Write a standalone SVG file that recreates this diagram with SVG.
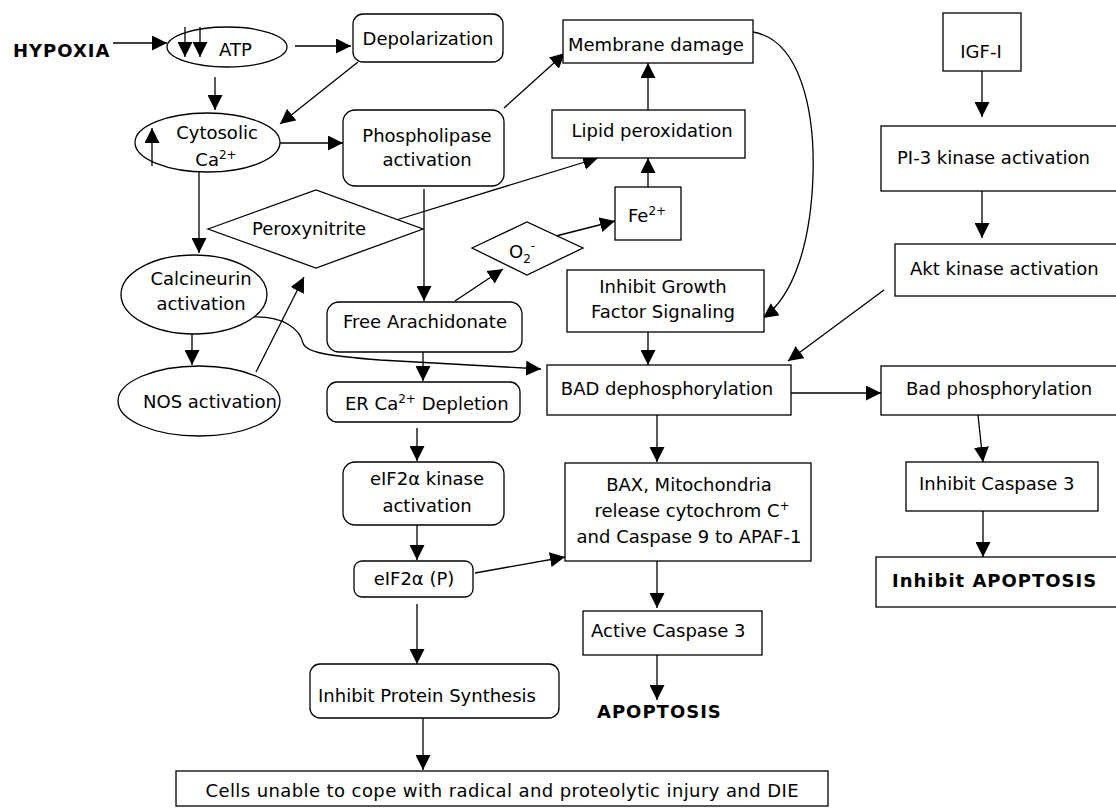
<svg xmlns="http://www.w3.org/2000/svg" width="1116" height="809" viewBox="0 0 1116 809">
<defs>
<marker id="ah" markerUnits="userSpaceOnUse" markerWidth="15" markerHeight="15" refX="15" refY="7.5" orient="auto" viewBox="0 0 15 15">
<path d="M0,0 L15,7.5 L0,15 z" fill="#000"/>
</marker>
</defs>
<style>
.t{font-family:"DejaVu Sans",Verdana,sans-serif;font-size:18px;fill:#000}
.m{text-anchor:middle}
.b{font-family:"DejaVu Sans",Verdana,sans-serif;font-size:18px;font-weight:bold;letter-spacing:1px;fill:#000}
.s{fill:#fff;stroke:#000;stroke-width:1.3}
.c{fill:none;stroke:#000;stroke-width:1.3;marker-end:url(#ah)}
.sup{font-size:12px}
</style>
<rect width="1116" height="809" fill="#fff"/>

<g id="connectors">
<path class="c" d="M113,43 L167,43"/>
<path class="c" d="M295,46 L351,46"/>
<path class="c" d="M215,77 L215,110"/>
<path class="c" d="M358,62 L280,124"/>
<path class="c" d="M280,143 L343,143"/>
<path class="c" d="M504,108 L565,53"/>
<path class="c" d="M648,110 L648,63"/>
<path class="c" d="M648,187 L648,158"/>
<path class="c" d="M552,237 L615,221"/>
<path class="c" d="M393,221 L598,158"/>
<path class="c" d="M424,189 L424,301"/>
<path class="c" d="M199,172 L199,253"/>
<path class="c" d="M192,334 L192,365"/>
<path class="c" d="M256,372 L304,277"/>
<path class="c" d="M253,317 C285,316 300,330 303,343 C306,353 330,356 380,360 L541,369"/>
<path class="c" d="M455,301 L503,269"/>
<path class="c" d="M423,352 L423,381"/>
<path class="c" d="M417,428 L417,461"/>
<path class="c" d="M417,525 L417,560"/>
<path class="c" d="M475,573 L565,557"/>
<path class="c" d="M417,604 L417,664"/>
<path class="c" d="M423,718 L423,770"/>
<path class="c" d="M753,32 C800,40 815,110 813,175 C811,240 795,295 763,318"/>
<path class="c" d="M648,332 L648,365"/>
<path class="c" d="M791,393 L881,393"/>
<path class="c" d="M884,290 L788,361"/>
<path class="c" d="M657,415 L657,462"/>
<path class="c" d="M657,561 L657,608"/>
<path class="c" d="M657,655 L657,700"/>
<path class="c" d="M978,415 L983,462"/>
<path class="c" d="M983,511 L983,557"/>
<path class="c" d="M982,67 L982,117"/>
<path class="c" d="M982,191 L982,238"/>
</g>

<g id="hypoxia"><text class="b" x="13" y="57">HYPOXIA</text></g>

<g id="atp">
<ellipse class="s" cx="227" cy="47" rx="60" ry="20"/>
<path class="c" d="M185,27 L185,57"/>
<path class="c" d="M200,27 L200,57"/>
<text class="t" x="219" y="56">ATP</text>
</g>

<g id="depolarization">
<rect class="s" x="353" y="14" width="150" height="48" rx="10"/>
<text class="t m" x="428" y="45">Depolarization</text>
</g>

<g id="cytosolic">
<ellipse class="s" cx="207.5" cy="142.5" rx="72.5" ry="29.5"/>
<path class="c" d="M152,166 L152,128"/>
<text class="t m" x="217" y="139">Cytosolic</text>
<text class="t m" x="216" y="166">Ca<tspan class="sup" dy="-7">2+</tspan></text>
</g>

<g id="phospholipase">
<rect class="s" x="343" y="110" width="161" height="76" rx="12"/>
<text class="t m" x="427" y="142">Phospholipase</text>
<text class="t m" x="427" y="166">activation</text>
</g>

<g id="membrane-damage">
<rect class="s" x="563" y="20" width="190" height="43"/>
<text class="t" x="568" y="51">Membrane damage</text>
</g>

<g id="lipid-peroxidation">
<rect class="s" x="552" y="110" width="193" height="48"/>
<text class="t m" x="652" y="137">Lipid peroxidation</text>
</g>

<g id="fe">
<rect class="s" x="615" y="187" width="66" height="53"/>
<text class="t" x="628" y="222">Fe<tspan class="sup" dy="-7">2+</tspan></text>
</g>

<g id="o2">
<polygon class="s" points="472,248 527,222 583,248 527,275"/>
<text class="t" x="509" y="258">O<tspan class="sup" dy="5">2</tspan><tspan class="sup" dy="-13">-</tspan></text>
</g>

<g id="peroxynitrite">
<polygon class="s" points="208,229 316,190 423,229 316,268"/>
<text class="t" x="252" y="235">Peroxynitrite</text>
</g>

<g id="calcineurin">
<ellipse class="s" cx="194" cy="294.5" rx="73" ry="39.5"/>
<text class="t m" x="201" y="285">Calcineurin</text>
<text class="t m" x="201" y="310">activation</text>
</g>

<g id="nos">
<ellipse class="s" cx="199" cy="401" rx="81" ry="35"/>
<text class="t" x="143" y="408">NOS activation</text>
</g>

<g id="free-arachidonate">
<rect class="s" x="327" y="302" width="195" height="50" rx="12"/>
<text class="t m" x="425" y="328">Free Arachidonate</text>
</g>

<g id="er-depletion">
<rect class="s" x="327" y="382" width="193" height="40" rx="10"/>
<text class="t" x="345" y="410">ER Ca<tspan class="sup" dy="-7">2+</tspan><tspan dy="7"> Depletion</tspan></text>
</g>

<g id="eif2-kinase">
<rect class="s" x="343" y="462" width="161" height="63" rx="12"/>
<text class="t m" x="427" y="485">eIF2α kinase</text>
<text class="t m" x="427" y="512">activation</text>
</g>

<g id="eif2-p">
<rect class="s" x="354" y="561" width="119" height="36" rx="8"/>
<text class="t m" x="414" y="585">eIF2α (P)</text>
</g>

<g id="inhibit-protein">
<rect class="s" x="310" y="664" width="249" height="54" rx="10"/>
<text class="t" x="318" y="702">Inhibit Protein Synthesis</text>
</g>

<g id="cells-die">
<rect class="s" x="176" y="771" width="652" height="35"/>
<text class="t m" x="502" y="797" textLength="593" lengthAdjust="spacing">Cells unable to cope with radical and proteolytic injury and DIE</text>
</g>

<g id="inhibit-growth">
<rect class="s" x="567" y="270" width="197" height="62"/>
<text class="t m" x="663" y="293">Inhibit Growth</text>
<text class="t m" x="663" y="318">Factor Signaling</text>
</g>

<g id="bad-dephos">
<rect class="s" x="547" y="365" width="244" height="50"/>
<text class="t m" x="667" y="395">BAD dephosphorylation</text>
</g>

<g id="bax">
<rect class="s" x="565" y="463" width="246" height="98"/>
<text class="t m" x="689" y="491">BAX, Mitochondria</text>
<text class="t m" x="692" y="517">release cytochrom C<tspan class="sup" dy="-7">+</tspan></text>
<text class="t m" x="689" y="543">and Caspase 9 to APAF-1</text>
</g>

<g id="active-caspase">
<rect class="s" x="583" y="611" width="179" height="44"/>
<text class="t" x="591" y="637">Active Caspase 3</text>
</g>

<g id="apoptosis"><text class="b" x="597" y="718">APOPTOSIS</text></g>

<g id="igf">
<rect class="s" x="943" y="13" width="78" height="58"/>
<text class="t m" x="981" y="58">IGF-I</text>
</g>

<g id="pi3k">
<rect class="s" x="881" y="126" width="240" height="65"/>
<text class="t" x="897" y="164">PI-3 kinase activation</text>
</g>

<g id="akt">
<rect class="s" x="895" y="244" width="225" height="52"/>
<text class="t" x="910" y="275">Akt kinase activation</text>
</g>

<g id="bad-phos">
<rect class="s" x="881" y="366" width="240" height="49"/>
<text class="t" x="906" y="395">Bad phosphorylation</text>
</g>

<g id="inhibit-caspase">
<rect class="s" x="906" y="462" width="192" height="49"/>
<text class="t" x="919" y="490">Inhibit Caspase 3</text>
</g>

<g id="inhibit-apoptosis">
<rect class="s" x="876" y="557" width="245" height="50"/>
<text class="b" x="892" y="587">Inhibit APOPTOSIS</text>
</g>
</svg>
